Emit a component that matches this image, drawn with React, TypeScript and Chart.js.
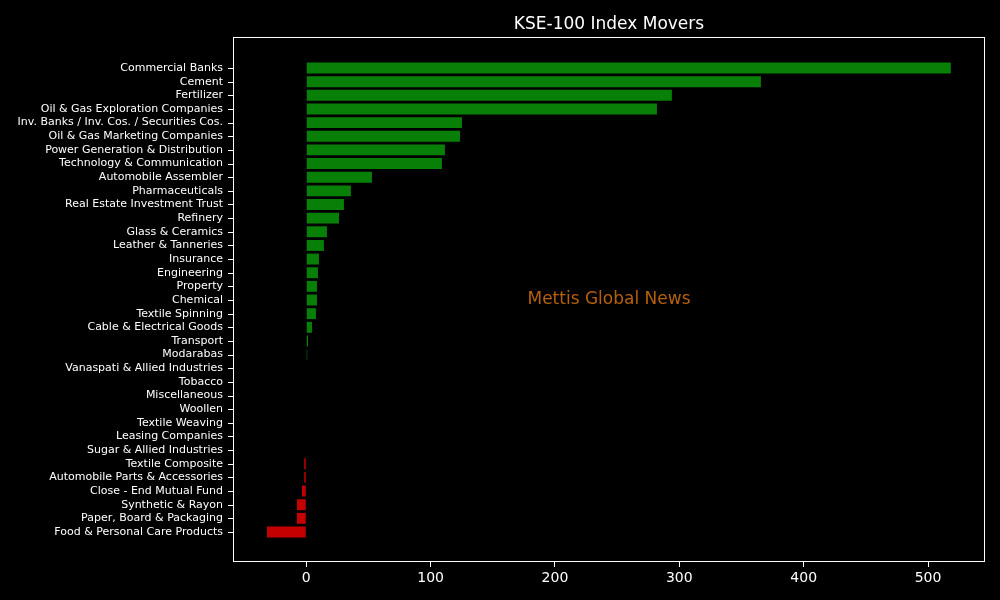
import { useEffect, useRef } from "react"
import { Chart, registerables } from "chart.js"

Chart.register(...registerables)

const sectors = [
  "Commercial Banks",
  "Cement",
  "Fertilizer",
  "Oil & Gas Exploration Companies",
  "Inv. Banks / Inv. Cos. / Securities Cos.",
  "Oil & Gas Marketing Companies",
  "Power Generation & Distribution",
  "Technology & Communication",
  "Automobile Assembler",
  "Pharmaceuticals",
  "Real Estate Investment Trust",
  "Refinery",
  "Glass & Ceramics",
  "Leather & Tanneries",
  "Insurance",
  "Engineering",
  "Property",
  "Chemical",
  "Textile Spinning",
  "Cable & Electrical Goods",
  "Transport",
  "Modarabas",
  "Vanaspati & Allied Industries",
  "Tobacco",
  "Miscellaneous",
  "Woollen",
  "Textile Weaving",
  "Leasing Companies",
  "Sugar & Allied Industries",
  "Textile Composite",
  "Automobile Parts & Accessories",
  "Close - End Mutual Fund",
  "Synthetic & Rayon",
  "Paper, Board & Packaging",
  "Food & Personal Care Products",
]

const points = [
  518.3, 365.6, 294.0, 282.0, 125.2, 123.6, 111.5, 109.1, 52.8, 35.9, 30.3,
  26.3, 16.6, 14.2, 10.2, 9.4, 8.6, 8.6, 7.8, 4.6, 1.4, 0.8, 0, 0, 0, 0, 0, 0,
  0, -1.6, -1.6, -3.4, -7.5, -7.5, -31.6,
]

const xTicks = [0, 100, 200, 300, 400, 500]

const FONT = "'DejaVu Sans', sans-serif"

// cadre blanc, petits traits de l'axe y, titre et filigrane
const decorPlugin = {
  id: "decor",
  afterDraw(chart: Chart) {
    const { ctx, chartArea } = chart
    const { left, right, top, bottom } = chartArea
    const yScale = chart.scales.y
    ctx.save()
    ctx.strokeStyle = "#ffffff"
    ctx.lineWidth = 1
    ctx.strokeRect(left + 0.5, top - 0.5, right - left - 1, bottom - top)

    ctx.beginPath()
    sectors.forEach((_, i) => {
      const py = Math.round(yScale.getPixelForValue(i)) + 0.5
      ctx.moveTo(left - 5, py)
      ctx.lineTo(left, py)
    })
    ctx.stroke()

    ctx.fillStyle = "#ffffff"
    ctx.font = `17px ${FONT}`
    ctx.textAlign = "center"
    ctx.textBaseline = "middle"
    ctx.fillText("KSE-100 Index Movers", (left + right) / 2, 25)

    ctx.fillStyle = "#b5600b"
    ctx.fillText("Mettis Global News", (left + right) / 2, (top + bottom) / 2)
    ctx.restore()
  },
}

export default function App() {
  const chartRef = useRef<HTMLCanvasElement>(null)
  const chartInstance = useRef<Chart | null>(null)

  useEffect(() => {
    if (!chartRef.current) return
    if (chartInstance.current) chartInstance.current.destroy()
    const ctx = chartRef.current.getContext("2d")
    if (!ctx) return

    chartInstance.current = new Chart(ctx, {
      type: "bar",
      data: {
        datasets: [
          {
            data: points.map((v, i) => ({ x: v, y: i })),
            backgroundColor: points.map((v) => (v >= 0 ? "#088008" : "#c40000")),
            borderWidth: 0,
            barPercentage: 0.8,
            categoryPercentage: 1,
          },
        ],
      },
      options: {
        indexAxis: "y",
        responsive: false,
        animation: false,
        layout: { padding: { top: 38, right: 15, left: 0, bottom: 0 } },
        plugins: {
          legend: { display: false },
          tooltip: { enabled: false },
        },
        scales: {
          x: {
            type: "linear",
            min: -58.9,
            max: 545.8,
            afterBuildTicks: (scale: any) => {
              scale.ticks = xTicks.map((v) => ({ value: v }))
            },
            afterFit: (scale: any) => {
              scale.height = 38
            },
            grid: {
              drawOnChartArea: false,
              color: "#ffffff",
              tickLength: 5,
              tickWidth: 1,
            },
            border: { display: false },
            ticks: {
              color: "#ffffff",
              font: { family: FONT, size: 14 },
              padding: 3,
              maxRotation: 0,
            },
          },
          y: {
            type: "linear",
            reverse: true,
            offset: false,
            min: -2.2,
            max: 36.2,
            afterBuildTicks: (scale: any) => {
              scale.ticks = sectors.map((_, i) => ({ value: i }))
            },
            afterFit: (scale: any) => {
              scale.width = 233
            },
            grid: {
              offset: false,
              drawOnChartArea: false,
              color: "rgba(0,0,0,0)",
              tickLength: 5,
              tickWidth: 1,
            },
            border: { display: false },
            ticks: {
              color: "#ffffff",
              font: { family: FONT, size: 11 },
              padding: 5,
              autoSkip: false,
              callback: (v: any) => sectors[v as number] ?? "",
            },
          },
        },
      },
      plugins: [decorPlugin],
    })

    return () => {
      if (chartInstance.current) {
        chartInstance.current.destroy()
        chartInstance.current = null
      }
    }
  }, [])

  return (
    <div
      style={{
        position: "fixed",
        top: 0,
        left: 0,
        width: 1000,
        height: 600,
        background: "#000000",
      }}
    >
      <canvas ref={chartRef} width={1000} height={600} />
    </div>
  )
}
